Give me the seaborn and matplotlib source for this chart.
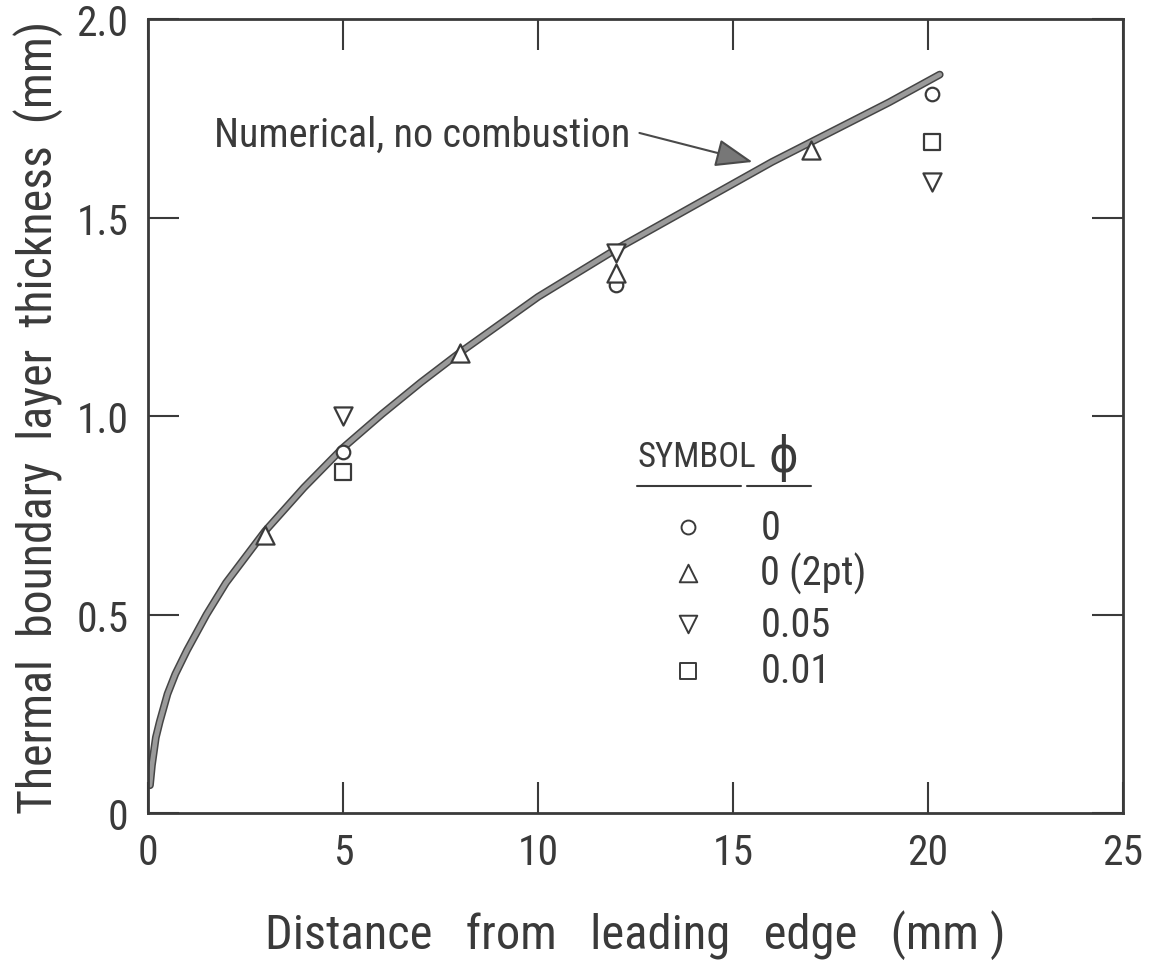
import matplotlib
matplotlib.use("Agg")
import matplotlib.pyplot as plt
import matplotlib.patheffects as pe
from matplotlib import font_manager
import pandas as pd
import seaborn as sns

# Numerical solution (no combustion): thermal boundary layer thickness vs distance
curve_x = [0.05, 0.1, 0.2, 0.3, 0.5, 0.7, 1.0, 1.5, 2.0, 3.0, 4.0, 5.0, 6.0, 7.0, 8.0,
           9.0, 10.0, 11.0, 12.0, 13.0, 14.0, 15.0, 16.0, 17.0, 18.0, 19.0, 20.3]
curve_y = [0.07, 0.12, 0.19, 0.23, 0.30, 0.35, 0.41, 0.50, 0.58, 0.71, 0.82, 0.92,
           1.005, 1.085, 1.16, 1.23, 1.30, 1.36, 1.42, 1.475, 1.53, 1.585, 1.64, 1.69,
           1.74, 1.79, 1.86]

# Measured points, one series per equivalence ratio
circle_x = [5.0, 12.0, 20.1]
circle_y = [0.91, 1.33, 1.81]
tri_up_x = [3.0, 8.0, 12.0, 17.0]
tri_up_y = [0.70, 1.16, 1.36, 1.67]
tri_down_x = [5.0, 12.0, 20.1]
tri_down_y = [1.00, 1.41, 1.59]
square_x = [5.0, 20.1]
square_y = [0.86, 1.69]

legend_labels = ["0", "0 (2pt)", "0.05", "0.01"]
x_ticks = [0, 5, 10, 15, 20, 25]
x_ticklabels = ["0", "5", "10", "15", "20", "25"]
y_ticks = [0, 0.5, 1.0, 1.5, 2.0]
y_ticklabels = ["0", "0.5", "1.0", "1.5", "2.0"]

sns.set_theme(style="white")

# Prefer a narrow sans face for the lettering
names = {f.name for f in font_manager.fontManager.ttflist}
candidates = ["Roboto Condensed", "Liberation Sans Narrow", "Noto Sans ExtraCondensed",
              "Noto Sans Condensed", "Open Sans Condensed", "DejaVu Sans Condensed",
              "Noto Sans SemiCondensed"]
family = next((c for c in candidates if c in names), None)
if family is None:
    condensed = [f.name for f in font_manager.fontManager.ttflist
                 if f.stretch in ("condensed", "semi-condensed", "extra-condensed")
                 or "Condensed" in f.name or "Narrow" in f.name]
    family = condensed[0] if condensed else "DejaVu Sans"
plt.rcParams["font.family"] = [family, "DejaVu Sans"]
plt.rcParams["font.stretch"] = "condensed"

ink = "#3a3a3a"
fig = plt.figure(figsize=(11.51, 9.62), dpi=100)
ax = fig.add_axes([0.1286, 0.1538, 0.8471, 0.8254])

curve = pd.DataFrame({"x": curve_x, "y": curve_y})
sns.lineplot(data=curve, x="x", y="y", ax=ax, color="#9a9a9a", lw=3.4,
             sort=False, estimator=None, solid_capstyle="round",
             path_effects=[pe.Stroke(linewidth=5.6, foreground="#454545"), pe.Normal()])

series = [
    (circle_x, circle_y, "o", 95),
    (tri_up_x, tri_up_y, "^", 170),
    (tri_down_x, tri_down_y, "v", 170),
    (square_x, square_y, "s", 130),
]
for xs, ys, mk, sz in series:
    sns.scatterplot(x=xs, y=ys, ax=ax, marker=mk, s=sz, facecolor="white",
                    edgecolor=ink, linewidth=1.6, zorder=5)

ax.set_xlim(0, 25)
ax.set_ylim(0, 2.0)
ax.set_xticks(x_ticks)
ax.set_xticklabels(x_ticklabels)
ax.set_yticks(y_ticks)
ax.set_yticklabels(y_ticklabels)
ax.tick_params(direction="in", bottom=True, left=True, top=True, right=True,
               length=22, width=1.5, color=ink, labelsize=30, labelcolor=ink, pad=14)
for sp in ax.spines.values():
    sp.set_visible(True)
    sp.set_color(ink)
    sp.set_linewidth(2.0)

ax.set_xlabel("Distance   from   leading   edge   (mm )", fontsize=35, color=ink,
              labelpad=26)
ax.set_ylabel("Thermal  boundary  layer  thickness  (mm)", fontsize=34.5, color=ink,
              labelpad=10)

# Annotation for the numerical curve
ax.text(12.36, 1.71, "Numerical, no combustion", fontsize=29, color=ink,
        ha="right", va="center")
ax.annotate("", xy=(15.5, 1.64), xytext=(12.6, 1.713),
            arrowprops=dict(arrowstyle="-|>,head_length=0.8,head_width=0.3",
                            facecolor="#777777", edgecolor="#4a4a4a", lw=1.5,
                            mutation_scale=29, shrinkA=0, shrinkB=0))

# Symbol key
ax.text(12.55, 0.897, "SYMBOL", fontsize=25, color=ink, va="center", ha="left")
ax.text(16.3, 0.897, "\u03d5", fontsize=36, color=ink, va="center", ha="center",
        family="DejaVu Sans")
ax.plot([12.55, 15.2], [0.823, 0.823], color=ink, lw=1.5)
ax.plot([15.35, 17.0], [0.823, 0.823], color=ink, lw=1.5)
key_rows = [0.72, 0.605, 0.476, 0.358]
key_marks = [("o", 100), ("^", 160), ("v", 160), ("s", 125)]
for yy, (mk, sz), lab in zip(key_rows, key_marks, legend_labels):
    sns.scatterplot(x=[13.85], y=[yy], ax=ax, marker=mk, s=sz, facecolor="white",
                    edgecolor=ink, linewidth=1.4, zorder=5)
    ax.text(15.7, yy, lab, fontsize=29, color=ink, va="center", ha="left")

fig.savefig("out.png", dpi=100)
